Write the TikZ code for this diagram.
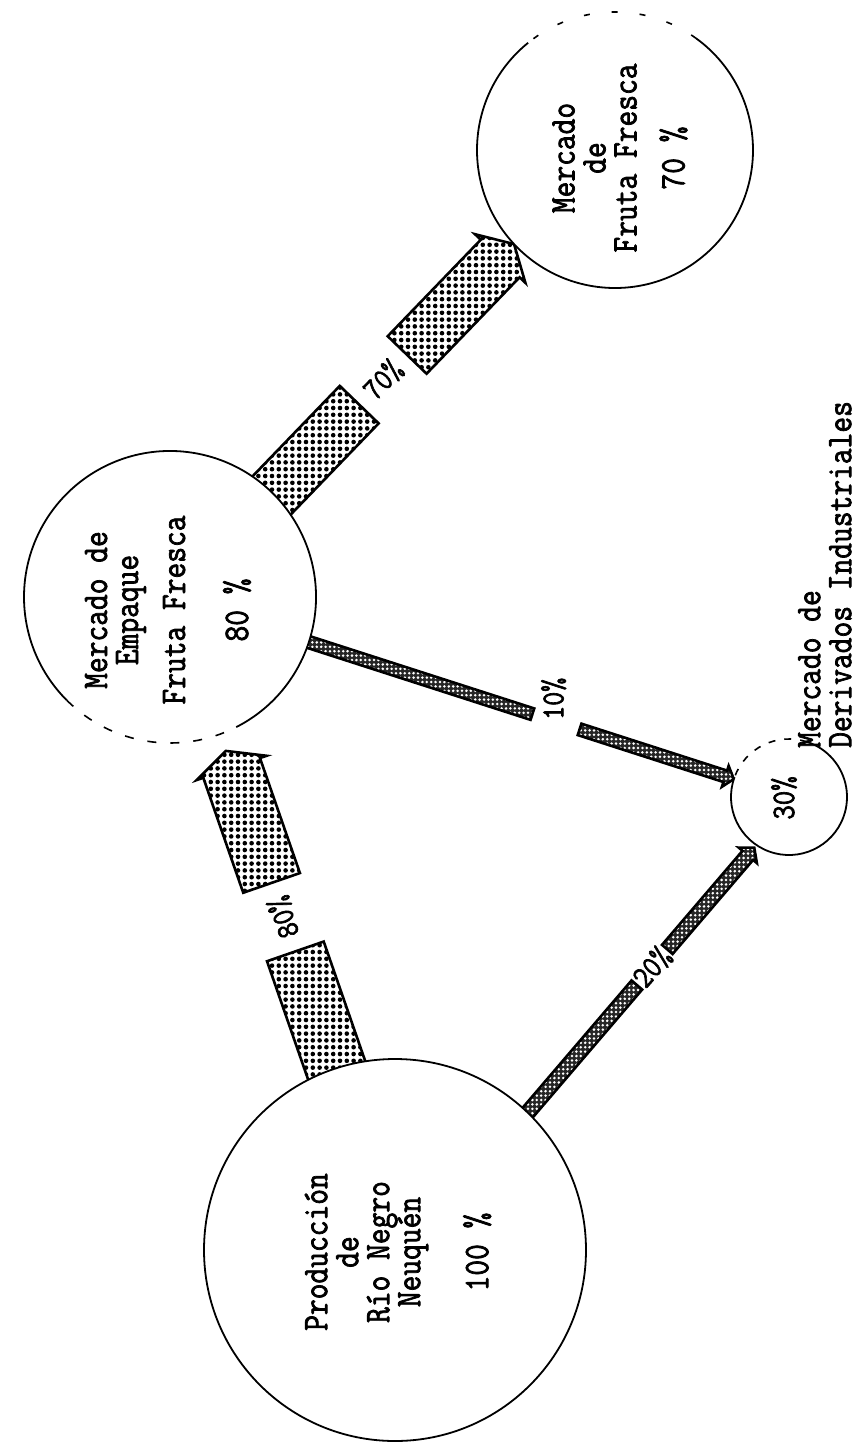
\documentclass[tikz,border=0pt]{standalone}
\usepackage{fontspec}
\newfontfamily\typew[FakeStretch=0.85,FakeBold=2]{Latin Modern Mono}
\newcommand{\tightlines}{\lineskiplimit=-40pt\relax}
\usetikzlibrary{calc,backgrounds}

% screen of dots over the box of the current path
\newcommand{\dotgrid}[2]{%
  \pgfpointanchor{path picture bounding box}{south west}\pgfgetlastxy{\ax}{\ay}%
  \pgfpointanchor{path picture bounding box}{north east}\pgfgetlastxy{\bx}{\by}%
  \pgfmathtruncatemacro{\ilo}{floor(\ax/#1)}%
  \pgfmathtruncatemacro{\ihi}{ceil(\bx/#1)}%
  \pgfmathtruncatemacro{\jlo}{floor(\ay/#1)}%
  \pgfmathtruncatemacro{\jhi}{ceil(\by/#1)}%
  \foreach \i in {\ilo,...,\ihi}{%
    \foreach \j in {\jlo,...,\jhi}{\path[#2] (\i*#1,\j*#1) circle;}}}

\tikzset{
  bubble/.style={circle,fill=white,inner sep=0pt,outer sep=0pt},
  ring/.style={line width=1.8pt},
  broken/.style={line width=1.6pt,dash pattern=on 9pt off 14pt},
  bigdot/.style={fill=black,radius=2.3},
  thindot/.style={fill=white,radius=1.4},
  bigflow/.style={draw,line width=2.6pt,line join=miter,fill=white,
    path picture={\dotgrid{6.8}{bigdot}}},
  thinflow/.style={draw,line width=2.6pt,line join=miter,fill=black!85,
    path picture={\dotgrid{4.4}{thindot}}},
  caption/.style={font=\typew\fontsize{36}{31}\selectfont\tightlines,
    align=center,rotate=90,inner sep=0pt},
  flowlabel/.style={font=\typew\fontsize{32}{32}\selectfont,inner sep=1pt},
}

% bar of half width #4 from #2 to #3
\newcommand{\flowbar}[4][bigflow]{%
  \path[#1] ($(#2)!#4!90:(#3)$) -- ($(#3)!#4!-90:(#2)$)
    -- ($(#3)!#4!90:(#2)$) -- ($(#2)!#4!-90:(#3)$) -- cycle;}
% bar with head: #4 half width, #5 head length, #6 half width of the barbs
\newcommand{\flowhead}[6][bigflow]{%
  \coordinate (hb) at ($(#3)!#5!(#2)$);
  \path[#1] ($(#2)!#4!90:(#3)$) -- ($(hb)!#4!90:(#3)$)
    -- ($(hb)!#6!90:(#3)$) -- (#3) -- ($(hb)!#6!-90:(#3)$)
    -- ($(hb)!#4!-90:(#3)$) -- ($(#2)!#4!-90:(#3)$) -- cycle;}

\begin{document}
\begin{tikzpicture}[x=1pt,y=1pt]
  \useasboundingbox (0,0) rectangle (860,-1442);

  % ---------- markets ----------
  \node[bubble,minimum size=382pt] (prod) at (395,-1250) {};
  \node[bubble,minimum size=292pt] (emp) at (170,-597) {};
  \node[bubble,minimum size=276pt] (fresca) at (615,-150) {};
  \node[bubble,minimum size=116pt] (deriv) at (789,-797) {};

  % outlines, parts are worn off in the print
  \draw[ring] (prod.center) circle[radius=191];
  \draw[ring] ([shift={(-63:146)}]emp.center) arc[start angle=-63,end angle=225,radius=146];
  \draw[broken] ([shift={(225:146)}]emp.center) arc[start angle=225,end angle=297,radius=146];
  \draw[ring] ([shift={(129:138)}]fresca.center) arc[start angle=129,end angle=414,radius=138];
  \draw[broken,dash pattern=on 6pt off 22pt] ([shift={(54:138)}]fresca.center) arc[start angle=54,end angle=129,radius=138];
  \draw[ring] ([shift={(-200:58)}]deriv.center) arc[start angle=-200,end angle=72,radius=58];
  \draw[broken,dash pattern=on 7pt off 9pt] ([shift={(72:58)}]deriv.center) arc[start angle=72,end angle=160,radius=58];

  \node[caption] (prodtext) at (398,-1252)
    {Producción\\de\\Río Negro\\Neuquén\\[37pt]100 \%};
  \node[caption] (emptext) at (168,-610)
    {Mercado de\\Empaque\\[16pt]Fruta Fresca\\[32pt]80 \%};
  \node[caption] (frescatext) at (620,-158)
    {Mercado\\de\\Fruta Fresca\\[17pt]70 \%};
  \node[caption,font=\typew\fontsize{33}{31}\selectfont] (derivpct) at (784,-798) {30\%};
  \node[caption,align=left,anchor=north west] (derivtext) at (798,-748)
    {Mercado de\\Derivados Industriales};

  % ---------- flows ----------
  \coordinate (f80a) at ($(prod.108)!-0.04!(emp.290)$);
  \coordinate (f80b) at ($(prod.108)!0.35!(emp.290)$);
  \coordinate (f80c) at ($(prod.108)!0.555!(emp.290)$);
  \coordinate (f80d) at ($(prod.108)!0.95!(emp.290)$);

  \coordinate (f70a) at ($(emp.45)!-0.04!(fresca.223)$);
  \coordinate (f70b) at ($(emp.45)!0.357!(fresca.223)$);
  \coordinate (f70c) at ($(emp.45)!0.556!(fresca.223)$);
  \coordinate (f70d) at (fresca.223);

  \coordinate (f10a) at ($(emp.342)!-0.02!(deriv.162)$);
  \coordinate (f10b) at ($(emp.342)!0.526!(deriv.162)$);
  \coordinate (f10c) at ($(emp.342)!0.637!(deriv.162)$);
  \coordinate (f10d) at (deriv.162);

  \coordinate (f20a) at ($(prod.46)!-0.03!(deriv.236)$);
  \coordinate (f20b) at ($(prod.46)!0.477!(deriv.236)$);
  \coordinate (f20c) at ($(prod.46)!0.61!(deriv.236)$);
  \coordinate (f20d) at ($(prod.46)!0.99!(deriv.236)$);

  \begin{scope}[on background layer]
    \flowbar{f80a}{f80b}{30pt}
    \flowhead{f80c}{f80d}{30pt}{18pt}{37pt}
    \flowbar{f70a}{f70b}{27pt}
    \flowhead{f70c}{f70d}{27pt}{20pt}{35pt}
    \flowbar[thinflow]{f10a}{f10b}{6pt}
    \flowhead[thinflow]{f10c}{f10d}{6pt}{9pt}{11pt}
    \flowbar[thinflow]{f20a}{f20b}{7pt}
    \flowhead[thinflow]{f20c}{f20d}{7pt}{10pt}{12pt}
  \end{scope}

  \node[flowlabel,rotate=109] (l80) at ($(f80b)!0.5!(f80c)$) {80\%};
  \node[flowlabel,rotate=46] (l70) at ($(f70b)!0.5!(f70c)$) {70\%};
  \node[flowlabel,rotate=90,anchor=west] (l10) at ($(f10b)!0.45!(f10c)$) {10\%};
  \node[flowlabel,rotate=49] (l20) at ($(f20b)!0.5!(f20c)$) {20\%};

\end{tikzpicture}
\end{document}
